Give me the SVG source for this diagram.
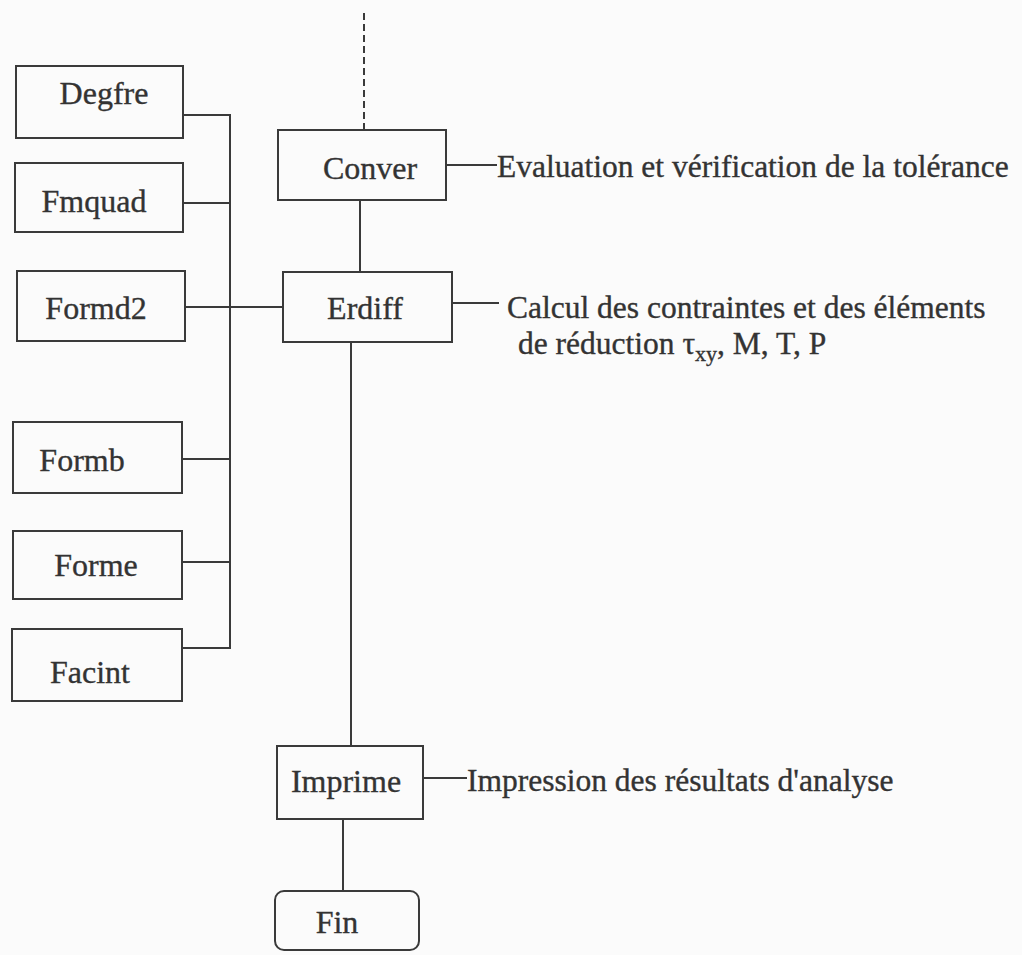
<svg xmlns="http://www.w3.org/2000/svg" width="1022" height="955" viewBox="0 0 1022 955">
  <style>
    .box { fill: none; stroke: #3a3a3a; stroke-width: 2; }
    .wire { fill: none; stroke: #3a3a3a; stroke-width: 2; }
    .dash { stroke-dasharray: 7 4; }
    text { font-family: 'Liberation Serif', 'DejaVu Serif', serif; fill: #333; stroke: #333; stroke-width: 0.35px; }
    .lbl { font-size: 32px; text-anchor: middle; }
    .note { font-size: 31.5px; }
    .sub { font-size: 22px; }
  </style>
  <rect x="0" y="0" width="1022" height="955" fill="#fbfbfb"/>

  <!-- connectors -->
  <g id="connectors">
    <line class="wire dash" x1="364" y1="13" x2="364" y2="130"/>
    <line class="wire" x1="230" y1="114" x2="230" y2="649"/>
    <line class="wire" x1="183" y1="115" x2="231" y2="115"/>
    <line class="wire" x1="183" y1="203" x2="231" y2="203"/>
    <line class="wire" x1="185" y1="307" x2="283" y2="307"/>
    <line class="wire" x1="182" y1="459" x2="231" y2="459"/>
    <line class="wire" x1="182" y1="562" x2="231" y2="562"/>
    <line class="wire" x1="182" y1="648" x2="231" y2="648"/>
    <line class="wire" x1="360" y1="200" x2="360" y2="272"/>
    <line class="wire" x1="351" y1="342" x2="351" y2="746"/>
    <line class="wire" x1="343" y1="819" x2="343" y2="891"/>
    <line class="wire" x1="446" y1="165" x2="497" y2="165"/>
    <line class="wire" x1="452" y1="303" x2="499" y2="303"/>
    <line class="wire" x1="423" y1="778" x2="467" y2="778"/>
  </g>

  <!-- subroutine boxes on the left -->
  <g id="degfre">
    <rect class="box" x="16" y="66" width="167" height="72"/>
    <text class="lbl" x="104" y="104">Degfre</text>
  </g>
  <g id="fmquad">
    <rect class="box" x="15" y="163" width="168" height="69"/>
    <text class="lbl" x="94" y="212">Fmquad</text>
  </g>
  <g id="formd2">
    <rect class="box" x="17" y="271" width="168" height="70"/>
    <text class="lbl" x="96" y="319">Formd2</text>
  </g>
  <g id="formb">
    <rect class="box" x="13" y="422" width="169" height="71"/>
    <text class="lbl" x="82" y="471">Formb</text>
  </g>
  <g id="forme">
    <rect class="box" x="13" y="531" width="169" height="68"/>
    <text class="lbl" x="96" y="576">Forme</text>
  </g>
  <g id="facint">
    <rect class="box" x="12" y="629" width="170" height="72"/>
    <text class="lbl" x="90" y="683">Facint</text>
  </g>

  <!-- main column -->
  <g id="conver">
    <rect class="box" x="278" y="130" width="168" height="70"/>
    <text class="lbl" x="370" y="179">Conver</text>
  </g>
  <g id="erdiff">
    <rect class="box" x="283" y="272" width="169" height="70"/>
    <text class="lbl" x="365" y="319">Erdiff</text>
  </g>
  <g id="imprime">
    <rect class="box" x="277" y="746" width="146" height="73"/>
    <text class="lbl" x="346" y="792">Imprime</text>
  </g>
  <g id="fin">
    <rect class="box" x="275" y="891" width="144" height="59" rx="9" ry="9"/>
    <text class="lbl" x="337" y="933">Fin</text>
  </g>

  <!-- annotations -->
  <g id="notes">
    <text class="note" x="497" y="177">Evaluation et vérification de la tolérance</text>
    <text class="note" x="507" y="318">Calcul des contraintes et des éléments</text>
    <text class="note" x="518" y="354">de réduction τ<tspan class="sub" dy="7">xy</tspan><tspan dy="-7">, M, T, P</tspan></text>
    <text class="note" x="467" y="791">Impression des résultats d'analyse</text>
  </g>
</svg>
